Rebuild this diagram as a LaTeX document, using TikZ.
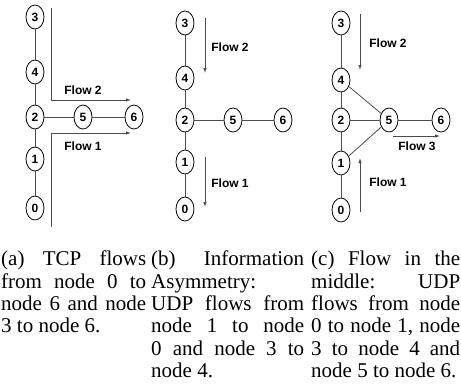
\documentclass[tikz,border=0pt]{standalone}
\usepackage{fontspec}
\setmainfont{Liberation Serif}
\newfontfamily\labelfont{Liberation Sans}
\usepackage{tikz}
\usetikzlibrary{shapes.geometric,arrows.meta}

\tikzset{
  netnode/.style={draw, ellipse, line width=0.8pt, inner sep=0pt,
    minimum width=18pt, minimum height=24pt, font=\labelfont\bfseries\fontsize{12}{13}\selectfont},
  link/.style={draw=black!70, line width=0.8pt},
  flow/.style={draw=black!70, line width=0.8pt, -{Latex[length=5pt,width=3.5pt]}},
  flowlabel/.style={font=\labelfont\bfseries\fontsize{12}{13}\selectfont},
  caption/.style={anchor=north west, inner sep=0pt, align=justify,
    font=\fontsize{21}{22.3}\selectfont}
}

\begin{document}
\begin{tikzpicture}[x=1pt, y=-1pt]
        \useasboundingbox (0,0) rectangle (461,389);

        % (a) TCP flows
        \node[netnode] (a3) at (35, 17) {3};
        \node[netnode] (a4) at (35, 72) {4};
        \node[netnode] (a2) at (35, 117) {2};
        \node[netnode] (a1) at (35, 159) {1};
        \node[netnode] (a0) at (35, 208) {0};
        \node[netnode] (a5) at (83, 117) {5};
        \node[netnode] (a6) at (134, 117) {6};
        \draw[link] (a3) -- (a4) -- (a2) -- (a1) -- (a0);
        \draw[link] (a2) -- (a5) -- (a6);
        % flow 2 above, flow 1 below
        \coordinate (a2s) at (51, 8);
        \coordinate (a2c) at (51, 100);
        \coordinate (a2e) at (131, 100);
        \coordinate (a1s) at (51, 227);
        \coordinate (a1c) at (51, 133);
        \coordinate (a1e) at (131, 133);
        \draw[flow] (a2s) -- (a2c) -- (a2e);
        \draw[flow] (a1s) -- (a1c) -- (a1e);
        \node[flowlabel] (aflow2) at (83, 90) {Flow 2};
        \node[flowlabel] (aflow1) at (83, 146) {Flow 1};

        % (b) information asymmetry
        \node[netnode] (b3) at (185, 23) {3};
        \node[netnode] (b4) at (185, 78) {4};
        \node[netnode] (b2) at (185, 120) {2};
        \node[netnode] (b1) at (185, 162) {1};
        \node[netnode] (b0) at (185, 209) {0};
        \node[netnode] (b5) at (233, 120) {5};
        \node[netnode] (b6) at (283, 120) {6};
        \draw[link] (b3) -- (b4) -- (b2) -- (b1) -- (b0);
        \draw[link] (b2) -- (b5) -- (b6);
        \coordinate (b2s) at (205, 18);
        \coordinate (b2e) at (205, 73);
        \coordinate (b1s) at (205, 157);
        \coordinate (b1e) at (205, 207);
        \draw[flow] (b2s) -- (b2e);
        \draw[flow] (b1s) -- (b1e);
        \node[flowlabel] (bflow2) at (230, 47) {Flow 2};
        \node[flowlabel] (bflow1) at (230, 183) {Flow 1};

        % (c) flow in the middle
        \node[netnode] (c3) at (341, 23) {3};
        \node[netnode] (c4) at (341, 80) {4};
        \node[netnode] (c2) at (341, 120) {2};
        \node[netnode] (c1) at (341, 163) {1};
        \node[netnode] (c0) at (341, 210) {0};
        \node[netnode] (c5) at (389, 120) {5};
        \node[netnode] (c6) at (441, 120) {6};
        \draw[link] (c3) -- (c4) -- (c2) -- (c1) -- (c0);
        \draw[link] (c4) -- (c5);
        \draw[link] (c1) -- (c5);
        \draw[link] (c2) -- (c5) -- (c6);
        \coordinate (c2s) at (360, 14);
        \coordinate (c2e) at (360, 70);
        \coordinate (c3s) at (393, 136);
        \coordinate (c3e) at (440, 136);
        \coordinate (c1s) at (360, 212);
        \coordinate (c1e) at (360, 158);
        \draw[flow] (c2s) -- (c2e);
        \draw[flow] (c3s) -- (c3e);
        \draw[flow] (c1s) -- (c1e);
        \node[flowlabel] (cflow2) at (388, 43) {Flow 2};
        \node[flowlabel] (cflow3) at (417, 146) {Flow 3};
        \node[flowlabel] (cflow1) at (388, 182) {Flow 1};

        % captions
        \node[caption, text width=145pt] (capa) at (1, 250)
          {\noindent\strut(a) TCP flows\linebreak from node 0 to\linebreak node 6 and node\linebreak 3 to node 6.};
        \node[caption, text width=153pt] (capb) at (151, 250)
          {\noindent\strut(b) Information\linebreak Asymmetry:\linebreak UDP flows from\linebreak node 1 to node\linebreak 0 and node 3 to\linebreak node 4.};
        \node[caption, text width=149pt] (capc) at (311, 250)
          {\noindent\strut(c) Flow in the\linebreak middle: UDP\linebreak flows from node\linebreak 0 to node 1, node\linebreak 3 to node 4 and\linebreak node 5 to node 6.};
\end{tikzpicture}
\end{document}
